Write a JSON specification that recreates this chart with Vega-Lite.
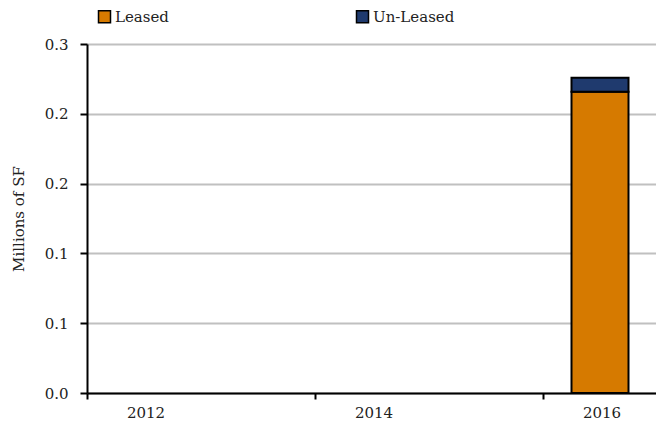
{
  "$schema": "https://vega.github.io/schema/vega-lite/v6.json",
  "autosize": "none",
  "width": 570,
  "height": 349,
  "padding": {"left": 87, "top": 44, "right": 0, "bottom": 32},
  "background": "white",
  "config": {
    "font": "DejaVu Serif",
    "view": {"stroke": null},
    "axis": {"labelFont": "DejaVu Serif", "titleFont": "DejaVu Serif", "labelColor": "#222", "titleColor": "#222"},
    "legend": {"labelFont": "DejaVu Serif"}
  },
  "data": {
    "values": [
      {"year": "2016", "status": "Leased", "value": 0.259},
      {"year": "2016", "status": "Un-Leased", "value": 0.012}
    ]
  },
  "mark": {"type": "bar", "stroke": "black", "strokeWidth": 2},
  "encoding": {
    "x": {
      "field": "year",
      "type": "ordinal",
      "scale": {"domain": ["2012", "2013", "2014", "2015", "2016"], "paddingInner": 0.5, "paddingOuter": 0.25},
      "axis": {
        "values": ["2012", "2014", "2016"],
        "title": null,
        "labelAngle": 0,
        "bandPosition": -0.5,
        "labelOffset": 2,
        "grid": false,
        "domainColor": "black",
        "domainWidth": 2,
        "tickColor": "black",
        "tickWidth": 2,
        "tickSize": 6,
        "labelFontSize": 15,
        "labelPadding": 6
      }
    },
    "y": {
      "field": "value",
      "type": "quantitative",
      "stack": "zero",
      "scale": {"domain": [0, 0.3], "nice": false},
      "axis": {
        "values": [0, 0.06, 0.12, 0.18, 0.24, 0.3],
        "format": ".1f",
        "title": "Millions of SF",
        "titleFontSize": 15,
        "titleFontWeight": "normal",
        "titlePadding": 18,
        "labelFontSize": 15,
        "labelPadding": 12,
        "domainColor": "black",
        "domainWidth": 2,
        "tickColor": "black",
        "tickWidth": 2,
        "tickSize": 7,
        "gridColor": "#c0c0c0",
        "gridWidth": 2
      }
    },
    "color": {
      "field": "status",
      "type": "nominal",
      "scale": {"domain": ["Leased", "Un-Leased"], "range": ["#d67a00", "#1f3a6e"]},
      "legend": {
        "title": null,
        "orient": "none",
        "legendX": 10,
        "legendY": -35,
        "direction": "horizontal",
        "symbolType": "square",
        "symbolSize": 144,
        "symbolStrokeColor": "black",
        "symbolStrokeWidth": 1.5,
        "symbolOpacity": 1,
        "labelFontSize": 15,
        "labelOffset": 3,
        "columnPadding": 184,
        "labelColor": "#222"
      }
    },
    "order": {"field": "status", "sort": "ascending"}
  }
}
